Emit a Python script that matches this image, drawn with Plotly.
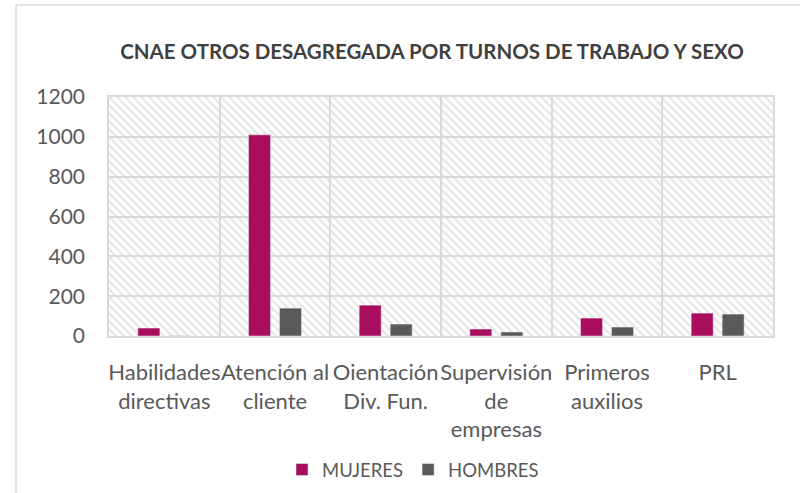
import base64
import plotly.graph_objects as go

categories = ["Habilidades<br>directivas", "Atención al<br>cliente", "Oientación<br>Div. Fun.",
              "Supervisión<br>de<br>empresas", "Primeros<br>auxilios", "PRL"]
mujeres = [40, 1010, 155, 35, 90, 115]
hombres = [1, 140, 60, 20, 45, 110]

C_M = "#A80D5E"
C_H = "#595959"
TXT = "#595959"
GRID = "#D9D9D9"

W, H = 800, 493
ML, MR, MT, MB = 109, 27, 97, 157
PW, PH = W - ML - MR, H - MT - MB

svg = f'''<svg xmlns="http://www.w3.org/2000/svg" width="{PW}" height="{PH}">
<defs><pattern id="p" width="8" height="8" patternUnits="userSpaceOnUse">
<path d="M-2,-2 L10,10 M-2,6 L2,10 M6,-2 L10,2" stroke="#E8E8E8" stroke-width="2.6"/>
</pattern></defs>
<rect width="{PW}" height="{PH}" fill="white"/>
<rect width="{PW}" height="{PH}" fill="url(#p)"/>
</svg>'''
uri = "data:image/svg+xml;base64," + base64.b64encode(svg.encode()).decode()

fig = go.Figure()
fig.add_trace(go.Bar(name="MUJERES", x=categories, y=mujeres, marker_color=C_M))
fig.add_trace(go.Bar(name="HOMBRES", x=categories, y=hombres, marker_color=C_H))

fig.update_layout(
    width=W, height=H,
    margin=dict(l=ML, r=MR, t=MT, b=MB, autoexpand=False),
    paper_bgcolor="white", plot_bgcolor="rgba(0,0,0,0)",
    font=dict(family="Lato, Carlito, sans-serif", color=TXT),
    barmode="group", bargap=0.44, bargroupgap=0.29,
    title=dict(text="<b>CNAE OTROS DESAGREGADA POR TURNOS DE TRABAJO Y SEXO</b>",
               x=432 / W, xanchor="center", y=1 - 52 / H, yanchor="middle",
               font=dict(size=20.5, color="#404040")),
    showlegend=True,
    legend=dict(orientation="h", x=(413 - ML) / PW, xanchor="center", y=-(470 - MT - PH) / PH,
                yanchor="middle", font=dict(size=18.5, color=TXT), itemwidth=30,
                traceorder="normal"),
    images=[dict(source=uri, xref="paper", yref="paper", x=0, y=1, sizex=1, sizey=1,
                 sizing="stretch", layer="below", xanchor="left", yanchor="top")],
    shapes=[dict(type="rect", xref="paper", yref="paper",
                 x0=(16 - ML) / PW, x1=1.5, y0=-2, y1=(H - 5 - MB) / PH,
                 line=dict(color=GRID, width=1.5), fillcolor="rgba(0,0,0,0)", layer="below")],
)
fig.update_xaxes(tickson="boundaries", showgrid=True, gridcolor=GRID, gridwidth=1.5,
                 showline=True, linecolor=GRID, linewidth=1.5, mirror=True, tickangle=0,
                 automargin=False,
                 ticks="", tickfont=dict(size=22, color=TXT), ticklabelstandoff=16)
fig.update_yaxes(range=[0, 1200], dtick=200, showgrid=True, gridcolor=GRID, gridwidth=1.5,
                 showline=True, linecolor=GRID, linewidth=1.5, mirror=True, automargin=False,
                 ticks="", tickfont=dict(size=21, color=TXT), ticklabelstandoff=18,
                 zeroline=False)

fig.write_html("out.html", config={"displayModeBar": False},
               post_script="document.body.style.margin='0';")
